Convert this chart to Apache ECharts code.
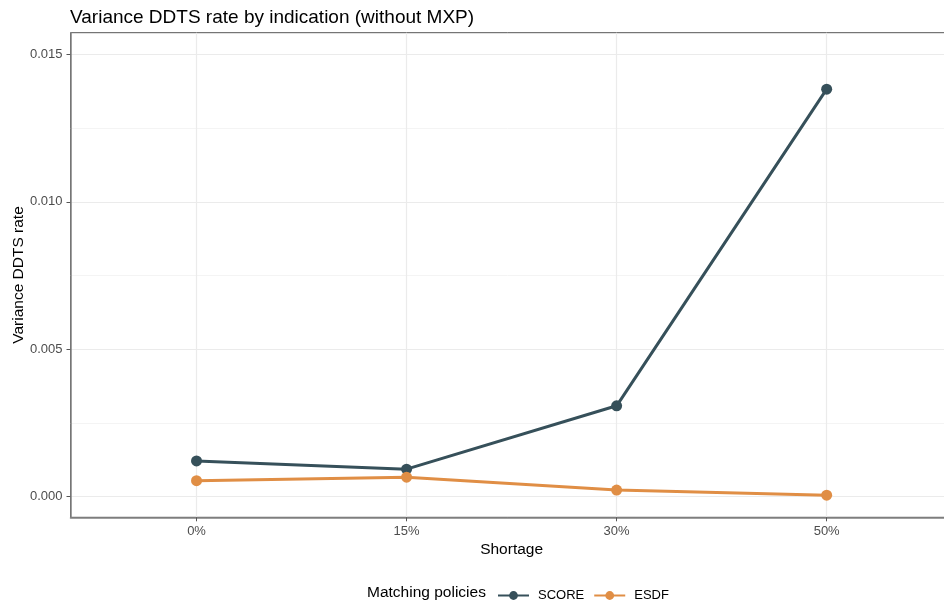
<!DOCTYPE html>
<html>
<head>
<meta charset="utf-8">
<script src="https://cdn.jsdelivr.net/npm/echarts@6/dist/echarts.min.js"></script>
<style>
html,body{margin:0;padding:0;background:#fff;}
#chart{width:944px;height:606px;}
</style>
</head>
<body>
<div id="chart"></div>
<script>
// ---- data ----
const categories = ['0%', '15%', '30%', '50%'];
const scoreValues = [0.00121, 0.00093, 0.00308, 0.01382];
const esdfValues = [0.00054, 0.00066, 0.00022, 0.00005];
const yMajorTicks = [0, 0.005, 0.010, 0.015];
const yMinorTicks = [0.0025, 0.0075, 0.0125];
const yTickLabels = ['0.000', '0.005', '0.010', '0.015'];
const seriesNames = ['SCORE', 'ESDF'];

const FONT = "'Liberation Sans', Arial, sans-serif";
const chart = echarts.init(document.getElementById('chart'), null, {renderer: 'canvas'});

const yMin = -0.000702, yMax = 0.015736;

const option = {
  backgroundColor: '#ffffff',
  animation: false,
  title: {
    text: 'Variance DDTS rate by indication (without MXP)',
    left: 65, top: 3,
    textStyle: {fontFamily: FONT, fontSize: 19, fontWeight: 'normal', color: '#000'}
  },
  graphic: [{
    type: 'text', left: 367, top: 585,
    style: {text: 'Matching policies', font: "15.5px 'Liberation Sans', Arial, sans-serif", fill: '#000'}
  }],
  legend: {
    data: seriesNames,
    left: 492, top: 584,
    itemWidth: 31, itemHeight: 11, itemGap: 9,
    textStyle: {fontFamily: FONT, fontSize: 13, color: '#000', padding: [0, 0, 0, 4]}
  },
  grid: {
    left: 70.5, top: 32.7, right: -8.7, bottom: 88.7,
    containLabel: false, outerBoundsMode: 'none',
    show: true, borderColor: '#555', borderWidth: 1
  },
  xAxis: {
    type: 'value', min: -0.6, max: 3.6,
    name: 'Shortage', nameLocation: 'middle', nameGap: 24, nameMoveOverlap: false,
    nameTextStyle: {fontFamily: FONT, fontSize: 15.5, color: '#000'},
    axisLine: {show: true, onZero: false, lineStyle: {color: '#808080', width: 1.5}},
    axisTick: {show: true, length: 4, customValues: [0, 1, 2, 3], lineStyle: {color: '#555'}},
    axisLabel: {
      customValues: [0, 1, 2, 3], margin: 8,
      fontFamily: FONT, fontSize: 13, color: '#4d4d4d',
      formatter: v => categories[Math.round(v)]
    },
    splitLine: {show: true, lineStyle: {color: '#ebebeb', width: 1.2}}
  },
  yAxis: [{
    type: 'value', min: yMin, max: yMax,
    name: 'Variance DDTS rate', nameLocation: 'middle', nameGap: 44, nameMoveOverlap: false,
    nameTextStyle: {fontFamily: FONT, fontSize: 15.5, color: '#000'},
    axisLine: {show: true, onZero: false, lineStyle: {color: '#808080', width: 1.5}},
    axisTick: {show: true, length: 4, customValues: yMajorTicks, lineStyle: {color: '#555'}},
    axisLabel: {
      customValues: yMajorTicks, margin: 8,
      fontFamily: FONT, fontSize: 13, color: '#4d4d4d',
      formatter: v => yTickLabels[yMajorTicks.findIndex(t => Math.abs(t - v) < 1e-9)]
    },
    splitLine: {show: true, lineStyle: {color: '#ebebeb', width: 1.2}}
  }, {
    type: 'value', min: yMin, max: yMax, position: 'left',
    axisLine: {show: false, onZero: false},
    axisTick: {show: false, customValues: yMinorTicks},
    axisLabel: {show: false, customValues: yMinorTicks},
    splitLine: {show: true, lineStyle: {color: '#f4f4f4', width: 1}}
  }],
  series: [{
    name: seriesNames[0], type: 'line', yAxisIndex: 0,
    data: categories.map((c, i) => [i, scoreValues[i]]),
    symbol: 'circle', symbolSize: 11,
    lineStyle: {width: 3, color: '#36505a'},
    itemStyle: {color: '#36505a'},
    z: 3
  }, {
    name: seriesNames[1], type: 'line', yAxisIndex: 0,
    data: categories.map((c, i) => [i, esdfValues[i]]),
    symbol: 'circle', symbolSize: 11,
    lineStyle: {width: 3, color: '#e08e45'},
    itemStyle: {color: '#e08e45'},
    z: 4
  }]
};
chart.setOption(option);
</script>
</body>
</html>
